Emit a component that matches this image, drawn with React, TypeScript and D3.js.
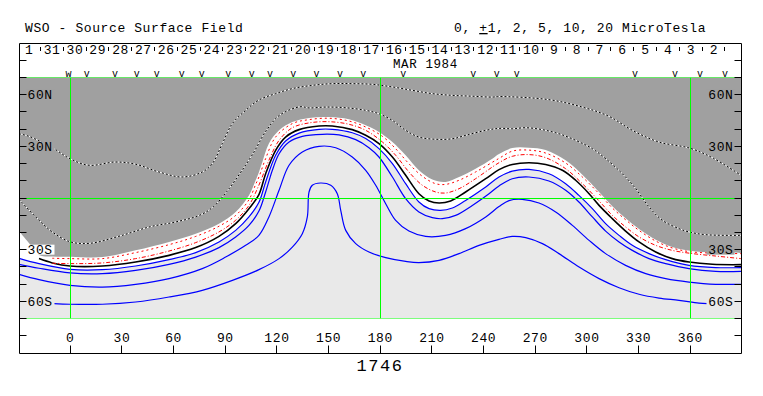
import React from "react"
import * as d3 from "d3"

type P = [number, number]

// contour lines, [Carrington longitude, latitude]
const grayEdge: P[] = [
  [-29.6, -19.2], [-24, -26], [-18, -33.1], [-10, -34], [0.4, -34.1], [18.8, -34.3], [38.1, -30.4],
  [57.5, -25.5], [73, -20.7], [86.5, -14.9], [96.2, -8.1], [103.9, 1.5], [107.8, 10.3], [109.7, 15],
  [111.7, 20.9], [115.5, 31.6], [121.4, 39.3], [129.1, 44.1], [138.8, 46.5], [150.4, 47.0], [162, 45.7],
  [171.7, 42.2], [179.4, 38.3], [187.2, 32.5], [194.9, 24.8], [202.6, 16.1], [210.4, 10.7], [218.1, 9.3],
  [225.9, 12.2], [235.5, 17.0], [245.2, 22.8], [249.1, 25.5], [256.8, 29.0], [266.5, 29.2], [276.2, 27.9],
  [287.8, 21.9], [297.5, 13.5], [307.2, 3.5], [314.9, -4.8], [322.6, -11.8], [330.4, -18.0], [340.1, -24.2],
  [349.7, -28.4], [360, -30.6], [374.9, -31.7], [389.6, -31.9],
]

const redOuter: P[] = [
  [-10.3, -35.0], [0.4, -35.2], [18.8, -35.2], [38.1, -31.7], [57.5, -27.1], [73, -22.3], [86.5, -16.4],
  [96.2, -10.1], [103.9, -1.0], [107.8, 7.9], [109.7, 12.2], [113.6, 22.9], [119.4, 35.4], [129.1, 43.2],
  [138.8, 45.5], [150.4, 46.3], [162, 44.7], [171.7, 41.2], [181.4, 35.8], [189.1, 28.6], [196.8, 19.9],
  [204.6, 12.6], [212.3, 8.3], [218.1, 7.9], [225.9, 10.3], [235.5, 15.1], [249.1, 23], [256.8, 27.2],
  [266.5, 27.8], [276.2, 26.1], [287.8, 20.3], [297.5, 12.2], [307.2, 2.5], [314.9, -5.8], [322.6, -12.6],
  [330.4, -18.8], [340.1, -25.0], [349.7, -29.0], [360, -31.2], [374.9, -32.0], [389.6, -32.3],
]

const redInner: P[] = [
  [-10.3, -37.9], [0.4, -38.1], [18.8, -37.7], [38.1, -35.2], [57.5, -30.8], [73, -25.9], [86.5, -19.7],
  [96.2, -12.9], [103.9, -4.3], [109.7, 7.5], [115.5, 21.9], [121.4, 33.5], [129.1, 40.8], [138.8, 43.6],
  [150.4, 44.3], [162, 42.8], [171.7, 39.3], [181.4, 32.5], [189.1, 24.8], [196.8, 15.1], [204.6, 7.4],
  [212.3, 3.5], [218.1, 2.9], [225.9, 5.4], [235.5, 11.2], [249.1, 20.5], [256.8, 24.2], [266.5, 25.2],
  [276.2, 23.4], [287.8, 17.0], [297.5, 8.3], [307.2, -1.7], [314.9, -10.1], [322.6, -16.8], [330.4, -22.6],
  [340.1, -27.5], [349.7, -30.4], [360, -32.1], [374.9, -33.7], [389.6, -35.2],
]

const neutral: P[] = [
  [-18, -35.2], [-10.3, -37.7], [0, -39.5], [18.8, -39.5], [38.1, -37.2], [57.5, -33.3], [73, -28.8],
  [86.5, -22.3], [96.2, -14.9], [103.9, -6.2], [109.7, 2], [113.6, 14.1], [119.4, 27.7], [125.2, 35.4],
  [133, 39.7], [144.6, 41.8], [152.3, 41.8], [163.9, 39.7], [171.7, 36.4], [179.4, 31.6], [187.2, 23.8],
  [194.9, 13.2], [202.6, 2.5], [208.5, -1.7], [214.3, -2.9], [221, -1.7], [229.7, 3.5], [241.4, 11.2],
  [249.1, 16.5], [256.8, 19.5], [266.5, 20.5], [276.2, 19.5], [285.9, 16.1], [293.6, 10.3], [301.4, 2.5],
  [307.2, -4.3], [314.9, -12.0], [322.6, -19.2], [330.4, -25.5], [340.1, -31.4], [349.7, -35.2],
  [359.4, -37.2], [373, -38.5], [389.6, -38.7],
]

const neg1: P[] = [
  [-29.6, -35.0], [-18, -38.1], [0, -41.4], [18.8, -41.6], [38.1, -39.5], [57.5, -35.8], [73, -31.7],
  [86.5, -25.5], [96.2, -18.8], [103.9, -11.0], [109.7, -2.5], [113.6, 9.3], [119.4, 24.8], [125.2, 33.1],
  [133, 37.7], [144.6, 39.9], [152.3, 39.9], [163.9, 37.9], [171.7, 34.5], [179.4, 28.7], [187.2, 20.0],
  [194.9, 8.3], [202.6, -2.3], [208.5, -6.2], [215.2, -7.2], [222, -5.8], [229.7, -1.4], [241.4, 6.4],
  [249.1, 12.2], [256.8, 15.6], [266.5, 16.6], [278.1, 14.1], [287.8, 8.3], [295.5, 1.5], [303.3, -6.2],
  [311, -14.9], [318.8, -21.7], [326.5, -27.5], [336.2, -32.3], [345.9, -35.8], [359.4, -39.1],
  [374.9, -40.4], [389.6, -40.4],
]

const neg2: P[] = [
  [-29.6, -38.5], [-18, -40.8], [0, -43.5], [18.8, -43.9], [38.1, -42.0], [57.5, -38.5], [73, -34.3],
  [86.5, -28.8], [96.2, -22.6], [103.9, -15.9], [109.7, -7.6], [113.6, 3.5], [117.5, 16.1], [121.4, 25.7],
  [127.2, 32.5], [134.9, 35.8], [146.5, 37.0], [156.2, 36.6], [165.9, 33.9], [173.6, 29.2], [179.4, 23.8],
  [187.2, 12.2], [194.9, -0.4], [202.6, -8.1], [210.4, -11.4], [216.2, -12.0], [223.9, -10.1],
  [233.6, -4.3], [243.3, 2.5], [249.1, 7], [256.8, 11.2], [266.5, 12.2], [278.1, 9.9], [287.8, 4.5],
  [295.5, -2.3], [303.3, -11.0], [311, -19.2], [318.8, -25.5], [326.5, -30.4], [336.2, -35.2],
  [345.9, -38.1], [359.4, -41.0], [374.9, -42.6], [389.6, -42.6],
]

const neg5: P[] = [
  [-29.6, -44.3], [-18, -47.4], [0, -50.7], [18.8, -51.7], [38.1, -50.1], [57.5, -46.8], [76.8, -41.0],
  [90.4, -34.3], [102, -27.5], [109.7, -21.7], [115.5, -11.0], [121.4, 4.5], [127.2, 19.0], [134.9, 26.7],
  [144.6, 30.0], [154.3, 29.2], [163.9, 23.8], [171.7, 16.1], [177.5, 7.4], [183.3, -3.3], [189.1, -13.0],
  [196.8, -19.2], [206.5, -22.3], [218.1, -21.7], [229.7, -17.8], [241.4, -11.0], [249.1, -5],
  [254.9, -1.5], [262.6, -0.8], [272.3, -2.9], [282, -8.1], [291.7, -15.9], [301.4, -24.6], [311, -32.3],
  [322.6, -39.1], [334.3, -43.9], [345.9, -46.8], [359.4, -48.8], [374.9, -50.1], [389.6, -50.1],
]

const neg10: P[] = [
  [-9.3, -61.3], [0, -61.7], [18.8, -61.7], [38.1, -60.4], [57.5, -57.5], [76.8, -53.6], [94.3, -47.8],
  [109.7, -41.6], [121.4, -35.2], [129.1, -28.5], [134.9, -20.7], [137.8, -11.0], [138.8, 3.5],
  [140.7, 7.4], [145.5, 8.7], [151.4, 7.4], [155.2, 2.5], [157.2, -7.2], [160.1, -18.8], [165.9, -26.5],
  [173.6, -31.4], [183.3, -34.6], [194.9, -36.8], [202.6, -37.5], [214.3, -36.2], [225.9, -32.3],
  [237.5, -27.5], [249.1, -24], [256.8, -22.3], [264.6, -23.0], [274.3, -26.5], [283.9, -32.3],
  [295.6, -40.1], [307.2, -46.8], [318.8, -52.1], [330.4, -55.9], [342, -58.1], [353.6, -59.4],
  [365.2, -61.0], [370.1, -61.3],
]

const pos5: P[] = [
  [-29.6, -0.8], [-19.9, -11.0], [-10.3, -19.7], [0, -25.4], [11.6, -26.3], [28.5, -22.2], [46.5, -16.7],
  [61.4, -13.9], [75.5, -9.9], [83.2, -5.1], [91.0, 3.7], [98.7, 14.3], [106.4, 26.0], [114.2, 39.5],
  [121.9, 48.2], [133.6, 53.0], [138.8, 52.3], [148.5, 52.8], [160.1, 52.4], [171.7, 50.9], [179.4, 48.9],
  [187.1, 45.1], [194.9, 39.3], [202.6, 35.4], [212.3, 34.1], [222, 34.4], [229.8, 36.4], [241.4, 39.3],
  [249.1, 40.4], [256.8, 40.2], [264.6, 40.8], [274.2, 39.7], [283.9, 37.3], [293.6, 33.5], [303.3, 28.6],
  [311.1, 22.8], [320.7, 14.1], [328.5, 5.4], [336.2, -5.2], [343.9, -12.9], [353.6, -17.8],
  [359.4, -19.7], [369.1, -21.3], [389.6, -21.7],
]

const pos10: P[] = [
  [-29.6, 37.3], [-23.8, 35.8], [-9.3, 28.6], [0, 22.8], [11, 19.0], [26.5, 20.9], [38.1, 19.6],
  [51.7, 15.1], [65.2, 12.2], [76.8, 15.1], [82.6, 19.9], [88.4, 31.5], [94.2, 43.1], [102, 50.9],
  [109.7, 56.9], [119.4, 60.6], [129.1, 63.5], [140.7, 65.4], [152.3, 66.4], [163.9, 66.4], [175.5, 66.0],
  [187.1, 64.5], [198.8, 62.5], [210.4, 60.6], [222, 59.6], [233.6, 59.1], [245.2, 58.6], [249.1, 58.9],
  [278.1, 57.1], [297.5, 52.8], [313, 47.4], [326.5, 39.3], [342, 32.5], [360, 28.9], [373.5, 23.1],
  [389.6, 13.2],
]

const lonTicks = [0, 30, 60, 90, 120, 150, 180, 210, 240, 270, 300, 330, 360]
const latLabels = [60, 30, -30, -60]
const dayLabels = ["1", "31", "30", "29", "28", "27", "26", "25", "24", "23", "22", "21", "20", "19", "18",
  "17", "16", "15", "14", "13", "12", "11", "10", "9", "8", "7", "6", "5", "4", "3", "2"]
const obsMarks = [9.7, 26.1, 38.7, 50.4, 64.9, 76.5, 91.9, 105.5, 116.1, 129.7, 143.2, 156.8,
  170.3, 193.5, 234.2, 247.8, 259.4, 328.1, 351.3, 365.8, 380.3]
const doubleMarks = [-0.9]
const rotation = "1746"

const FONT = "'Liberation Mono', 'DejaVu Sans Mono', monospace"
const GRAY = "#a0a0a0"
const LIGHT = "#e9e9e9"
const GREEN = "#00ff00"

export default function App() {
  const x = d3.scaleLinear().domain([0, 360]).range([70, 690])
  const y = d3.scaleLinear().domain([-90, 90]).range([353, 43])
  const crisp = (v: number) => Math.floor(v) + 0.5

  const L = crisp(x(-29.5))
  const R = crisp(x(389.7))
  const T = crisp(y(90))
  const B = crisp(y(-90))
  const PT = crisp(y(70))
  const PB = crisp(y(-70))

  const curve = d3.curveCatmullRom.alpha(0.5)
  const line = d3.line<P>().x(d => x(d[0])).y(d => y(d[1])).curve(curve)
  const above = d3.area<P>().x(d => x(d[0])).y0(PT - 2).y1(d => y(d[1])).curve(curve)

  const dayStart = -17.2
  const dayStep = 13.25
  const dayEdges = dayLabels.map((_, i) => dayStart + i * dayStep)

  const latText = (v: number) => `${Math.abs(v)}${v > 0 ? "N" : "S"}`
  const leftBg = [GRAY, GRAY, "#ffffff", LIGHT]
  const rightBg = [GRAY, GRAY, GRAY, LIGHT]
  const latTicks = d3.range(-80, 81, 10)

  return (
    <svg width={763} height={396} style={{ position: "absolute", left: 0, top: 0, background: "#fff" }}
      fontFamily={FONT} fontSize={13} letterSpacing={0.6}>
      <defs>
        <clipPath id="plot">
          <rect x={L} y={PT} width={R - L} height={PB - PT} />
        </clipPath>
      </defs>

      <text x={25} y={32}>WSO - Source Surface Field</text>
      <text x={454} y={32}>{"0, "}<tspan style={{ textDecoration: "underline" }}>+</tspan>{"1, 2, 5, 10, 20 MicroTesla"}</text>

      <g clipPath="url(#plot)">
        <rect x={L} y={PT} width={R - L} height={PB - PT} fill={LIGHT} />
        <path d={above(neg1) ?? ""} fill="#ffffff" />
        <path d={above(grayEdge) ?? ""} fill={GRAY} />

        {[neg1, neg2, neg5, neg10].map((c, i) => (
          <path key={i} d={line(c) ?? ""} fill="none" stroke="#0000ff" strokeWidth={1.2} />
        ))}
        <path d={line(neutral) ?? ""} fill="none" stroke="#000" strokeWidth={1.6} />
        <path d={line(redInner) ?? ""} fill="none" stroke="#ff0000" strokeWidth={1} strokeDasharray="4 2 1 2" />
        <path d={line(redOuter) ?? ""} fill="none" stroke="#ff0000" strokeWidth={1} strokeDasharray="2 3" />
        {[pos5, pos10].map((c, i) => (
          <g key={i}>
            <path d={line(c) ?? ""} fill="none" stroke="#fff" strokeWidth={1} />
            <path d={line(c) ?? ""} fill="none" stroke="#000" strokeWidth={1} strokeDasharray="2 2" />
          </g>
        ))}

        <g stroke={GREEN} strokeWidth={1}>
          {[70, 0, -70].map(v => (
            <line key={v} x1={L} x2={R} y1={crisp(y(v))} y2={crisp(y(v))} />
          ))}
          {[0, 180, 360].map(v => (
            <line key={v} x1={crisp(x(v))} x2={crisp(x(v))} y1={PT} y2={PB} />
          ))}
        </g>
      </g>

      {/* top strip: days of the month and observation marks */}
      <g stroke="#000" strokeWidth={1}>
        {dayEdges.map((d, i) => (
          <line key={i} x1={crisp(x(d))} x2={crisp(x(d))} y1={47} y2={51} />
        ))}
      </g>
      {dayLabels.map((d, i) => (
        <text key={i} x={x(dayEdges[i] - dayStep / 2) + 0.3} y={53.5} textAnchor="middle">{d}</text>
      ))}
      <text x={393} y={67.5} fontSize={12.5}>MAR 1984</text>
      <g fontSize={10} letterSpacing={0} textAnchor="middle">
        {obsMarks.map((m, i) => (
          <text key={i} x={x(m)} y={77}>v</text>
        ))}
        {doubleMarks.map((m, i) => (
          <text key={i} x={x(m)} y={77}>w</text>
        ))}
      </g>

      {/* latitude labels */}
      {latLabels.map((v, i) => (
        <g key={v}>
          <rect x={L + 7} y={y(v) - 5} width={28} height={10} fill={leftBg[i]} />
          <rect x={R - 35} y={y(v) - 5} width={28} height={10} fill={rightBg[i]} />
          <text x={L + 8} y={y(v) + 4.5}>{latText(v)}</text>
          <text x={R - 8} y={y(v) + 4.5} textAnchor="end">{latText(v)}</text>
        </g>
      ))}

      {/* frame and ticks */}
      <g stroke="#000" strokeWidth={1} fill="none">
        <path d={`M${L},${T}H${R}M${L},${T}V${B}H${R}V${T}`} />
        {latTicks.map(v => (
          <g key={v}>
            <line x1={L} x2={L + 7} y1={crisp(y(v))} y2={crisp(y(v))} />
            <line x1={R - 7} x2={R} y1={crisp(y(v))} y2={crisp(y(v))} />
          </g>
        ))}
        {lonTicks.map(v => (
          <line key={v} x1={crisp(x(v))} x2={crisp(x(v))} y1={B - 8} y2={B} />
        ))}
      </g>
      {lonTicks.map(v => (
        <text key={v} x={x(v) + 0.3} y={341.5} textAnchor="middle">{v}</text>
      ))}
      <text x={380} y={371} textAnchor="middle" fontSize={17} letterSpacing={1.5}>{rotation}</text>
    </svg>
  )
}
